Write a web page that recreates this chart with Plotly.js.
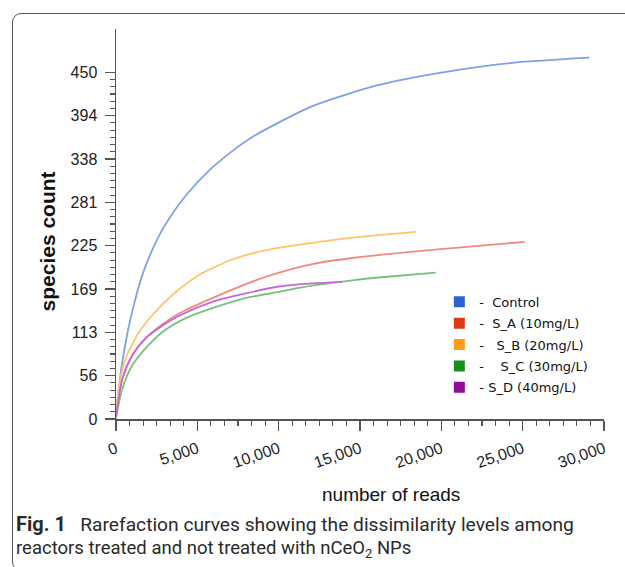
<!DOCTYPE html>
<html>
<head>
<meta charset="utf-8">
<script src="https://cdn.plot.ly/plotly-3.0.1.min.js"></script>
<style>
  html, body { margin: 0; padding: 0; background: #ffffff; overflow: hidden; }
  #wrap { position: relative; width: 625px; height: 567px; }
  #chart { position: absolute; left: 0; top: 0; width: 625px; height: 567px; }
  #frame { position: absolute; left: 12px; top: 13px; width: 700px; height: 556px;
           border: 1.5px solid #555; border-radius: 9px; pointer-events: none; z-index: 10; }
</style>
</head>
<body>
<div id="wrap">
  <div id="chart"></div>
  <div id="frame"></div>
</div>
<script>
// ---- data ----
const seriesNames = ['Control', 'S_A (10mg/L)', 'S_B (20mg/L)', 'S_C (30mg/L)', 'S_D (40mg/L)'];
const legendLabels = ['-\u00a0\u00a0Control', '-\u00a0\u00a0S_A (10mg/L)', '-\u00a0\u00a0\u00a0S_B (20mg/L)', '-\u00a0\u00a0\u00a0\u00a0S_C (30mg/L)', '-\u00a0S_D (40mg/L)'];

const readsControl = [0, 100, 300, 600, 1000, 1700, 2650, 3200, 4370, 5800, 7230, 8450, 11520, 12560, 16020, 20100, 24200, 29100];
const countControl = [0, 25, 62, 100, 140, 192, 238, 258, 292, 324, 349, 367, 401, 410, 433, 450, 462, 469];

const readsSA = [0, 399, 1012, 1828, 2853, 3877, 5920, 8988, 12055, 14509, 19092, 25123];
const countSA = [3, 53, 83, 105, 123, 137, 157, 183, 201, 209, 219, 230];

const readsSB = [0, 196, 601, 1423, 2239, 3466, 5104, 7147, 9190, 11644, 13160, 15800, 18430];
const countSB = [3, 44, 79, 113, 135, 161, 187, 207, 219, 227.5, 232, 238, 243];

const readsSC = [0, 399, 1012, 1828, 2853, 4282, 5920, 7963, 10012, 12055, 14509, 16840, 19660];
const countSC = [2, 40, 70, 92, 113, 131, 144, 157, 165, 173, 180, 185, 190];

const readsSD = [0, 399, 1012, 1828, 2853, 3877, 5920, 7963, 10012, 12055, 13900];
const countSD = [3, 53, 83, 105, 121, 134, 152, 163, 172, 176, 178];

const yTickLabels = ['0', '56', '113', '169', '225', '281', '338', '394', '450'];
const xTickStep = 5000;
const yTickStep = 56.25;

// ---- styling ----
const lineColors = ['#7ea2e6', '#f08a7c', '#ffc36c', '#78c278', '#c46ad4'];
const legendColors = ['#2c63d0', '#dc3b14', '#ff9b14', '#14901c', '#930d9b'];

const readsAll = [readsControl, readsSA, readsSB, readsSC, readsSD];
const countAll = [countControl, countSA, countSB, countSC, countSD];

const traces = [];
for (let i = 0; i < seriesNames.length; i++) {
  traces.push({
    type: 'scatter', mode: 'lines', name: seriesNames[i],
    x: readsAll[i], y: countAll[i],
    line: { color: lineColors[i], width: 1.8, shape: 'spline', smoothing: 0.7 },
    showlegend: false, hoverinfo: 'skip'
  });
}
for (let i = 0; i < seriesNames.length; i++) {
  traces.push({
    type: 'scatter', mode: 'markers', name: legendLabels[i],
    legendgroup: 'g' + i,
    x: [null], y: [null],
    marker: { symbol: 'square', size: 11, color: legendColors[i] },
    showlegend: true, hoverinfo: 'skip'
  });
}

const yTickVals = yTickLabels.map((_, k) => k * yTickStep);
const yMinor = [];
for (let v = 0; v <= 450 + 1e-6; v += yTickStep / 6) yMinor.push(v);

// plot-area pixel geometry
const L = 115.5, R = 604.5, T = 29, B = 419.3;
const px = v => (v - L) / (R - L);
const py = v => (B - v) / (B - T);

const axisColor = '#555';
const tickFont = { family: 'Liberation Sans, Arial, sans-serif', size: 16, color: '#222' };

const layout = {
  width: 625, height: 567,
  margin: { l: L, r: 625 - R, t: T, b: 567 - B, pad: 0 },
  paper_bgcolor: 'rgba(0,0,0,0)', plot_bgcolor: 'rgba(0,0,0,0)',
  showlegend: true,
  legend: {
    x: px(439.5), y: py(287), xanchor: 'left', yanchor: 'top',
    bgcolor: 'rgba(0,0,0,0)', borderwidth: 0, tracegroupgap: 1.5,
    font: { family: 'DejaVu Sans, Verdana, sans-serif', size: 13, color: '#111' },
    itemclick: false, itemdoubleclick: false
  },
  xaxis: {
    range: [0, 30000], showgrid: false, zeroline: false,
    showline: true, linecolor: axisColor, linewidth: 1.5,
    ticks: 'outside', ticklen: 10, tickwidth: 1.3, tickcolor: axisColor,
    tickmode: 'linear', tick0: 0, dtick: xTickStep, tickformat: ',d',
    tickangle: -19, tickfont: tickFont, ticklabelstandoff: 3,
    minor: { ticks: 'outside', ticklen: 5, tickwidth: 1.2, tickcolor: axisColor, dtick: xTickStep / 6, tick0: 0, showgrid: false }
  },
  yaxis: {
    range: [0, 506.25], showgrid: false, zeroline: false,
    showline: true, linecolor: axisColor, linewidth: 1.5,
    ticks: 'outside', ticklen: 10, tickwidth: 1.3, tickcolor: axisColor,
    tickmode: 'array', tickvals: yTickVals, ticktext: yTickLabels,
    tickfont: tickFont, ticklabelstandoff: 4,
    minor: { ticks: 'outside', ticklen: 5, tickwidth: 1.2, tickcolor: axisColor, tickmode: 'array', tickvals: yMinor, showgrid: false }
  },
  annotations: [
    { text: 'species count', xref: 'paper', yref: 'paper', x: px(47), y: py(242),
      xanchor: 'center', yanchor: 'middle', textangle: -90, showarrow: false,
      font: { family: 'Liberation Sans, Arial, sans-serif', size: 21, color: '#111', weight: 'bold' } },
    { text: 'number of reads', xref: 'paper', yref: 'paper', x: px(391), y: py(495),
      xanchor: 'center', yanchor: 'middle', showarrow: false,
      font: { family: 'Liberation Sans, Arial, sans-serif', size: 19, color: '#111' } },
    { text: '<b><span style="font-size:20px">Fig. 1</span></b>\u00a0\u00a0\u00a0Rarefaction curves showing the dissimilarity levels among',
      xref: 'paper', yref: 'paper', x: px(13), y: py(524), xanchor: 'left', yanchor: 'middle',
      showarrow: false, font: { family: 'Roboto, sans-serif', size: 19.2, color: '#2a2a2a' } },
    { text: 'reactors treated and not treated with nCeO<sub>2</sub> NPs',
      xref: 'paper', yref: 'paper', x: px(13), y: py(549), xanchor: 'left', yanchor: 'middle',
      showarrow: false, font: { family: 'Roboto, sans-serif', size: 18.5, color: '#2a2a2a' } }
  ]
};

Plotly.newPlot('chart', traces, layout, { staticPlot: true, displayModeBar: false });
</script>
</body>
</html>
